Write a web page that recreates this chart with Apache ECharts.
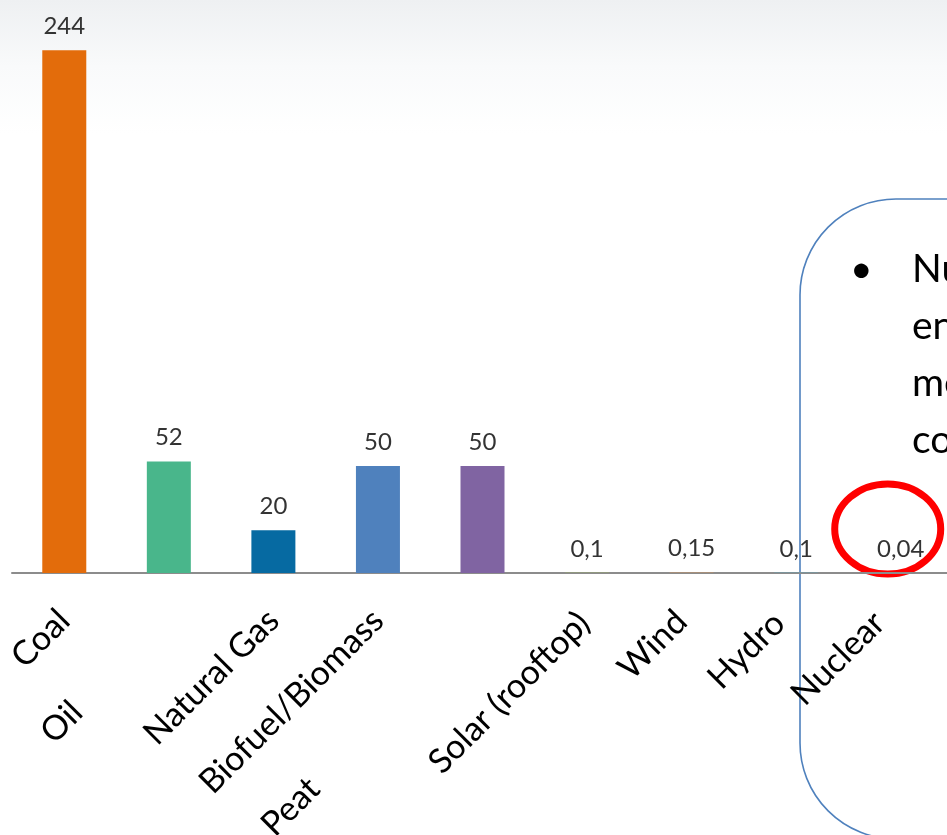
<!DOCTYPE html>
<html>
<head>
<meta charset="utf-8">
<script src="https://cdn.jsdelivr.net/npm/echarts@6/dist/echarts.min.js"></script>
<style>
  html, body { margin: 0; padding: 0; background: #fff; }
  #chart { width: 947px; height: 835px; }
</style>
</head>
<body>
<div id="chart"></div>
<script>
// Deaths per TWh of electricity, by energy source
const categories = ['Coal', 'Oil', 'Natural Gas', 'Biofuel/Biomass', 'Peat', 'Solar (rooftop)', 'Wind', 'Hydro', 'Nuclear'];
const deathsPerTWh = [244, 52, 20, 50, 50, 0.1, 0.15, 0.1, 0.04];

// Bar fills, one per source
const barColors = ['#E36C0B', '#49B68B', '#066AA2', '#4F81BD', '#8064A2', '#9BBB59', '#F79646', '#4BACC6', '#C0504D'];

// Callout text lines
const calloutLines = ['Nuclear power has the lowest', 'energy-related death rate,', 'measured per TWh,', 'compared to all other sources'];

// Staggered axis labels: trailing gap along the text line and an extra lift
const labelAdjust = {
  'Oil': { gap: 130, lift: 0 },
  'Peat': { gap: 238, lift: 0 },
  'Solar (rooftop)': { gap: 4, lift: 0 },
  'Wind': { gap: 8, lift: 13 },
  'Hydro': { gap: 14, lift: 20 },
  'Nuclear': { gap: 17, lift: 27 }
};

const FONT = 'Lato, "Open Sans", sans-serif';
const LABEL_SIZE = 34;
const chart = echarts.init(document.getElementById('chart'));

const adjKeys = Object.keys(labelAdjust);
const labelRich = { t: { fontFamily: FONT, fontSize: LABEL_SIZE, color: '#000' } };
adjKeys.forEach((k, i) => {
  labelRich['g' + i] = { width: labelAdjust[k].gap, fontSize: 2 };
  labelRich['l' + i] = { lineHeight: labelAdjust[k].lift, height: labelAdjust[k].lift, fontSize: 2 };
});

chart.setOption({
  animation: false,
  backgroundColor: {
    type: 'linear', x: 0, y: 0, x2: 0, y2: 1,
    colorStops: [
      { offset: 0, color: '#eef0f2' },
      { offset: 0.08, color: '#f9fafb' },
      { offset: 0.16, color: '#ffffff' },
      { offset: 1, color: '#ffffff' }
    ]
  },
  grid: { left: 12, width: 941, top: 16, bottom: 262, outerBoundsMode: 'none', containLabel: false },
  xAxis: {
    type: 'category',
    data: categories,
    axisLine: { lineStyle: { color: '#8c8c8c', width: 2 } },
    axisTick: { show: false },
    axisLabel: {
      interval: 0,
      rotate: 45,
      margin: 42,
      color: '#000',
      fontFamily: FONT,
      fontSize: LABEL_SIZE,
      formatter: (v) => {
        const idx = adjKeys.indexOf(v);
        if (idx < 0) return '{t|' + v + '}';
        let s = '{t|' + v + '}{g' + idx + '| }';
        if (labelAdjust[v].lift) s += '\n{l' + idx + '| }';
        return s;
      },
      rich: labelRich
    }
  },
  yAxis: { type: 'value', min: 0, max: 260, show: false },
  series: [{
    type: 'bar',
    data: deathsPerTWh.map((v, i) => ({ value: v, itemStyle: { color: barColors[i] } })),
    barWidth: 44,
    label: {
      show: true,
      position: 'top',
      distance: 12,
      color: '#333',
      fontFamily: FONT,
      fontSize: 24,
      formatter: (p) => String(p.value).replace('.', ',')
    }
  }]
});

// Annotations: rounded callout box and the red ring around the Nuclear value
const nuc = chart.convertToPixel({ seriesIndex: 0 }, [categories.length - 1, 0]);
const textEls = calloutLines.map((line, i) => ({
  type: 'text', left: 912, top: 250 + i * 57,
  style: { text: line, font: '39px ' + FONT, fill: '#000' }
}));
chart.setOption({
  graphic: [
    {
      type: 'rect',
      shape: { x: 800, y: 199, width: 320, height: 640, r: 96 },
      style: { fill: 'none', stroke: '#4F81BD', lineWidth: 1.6 }
    },
    {
      type: 'text', left: 850, top: 250,
      style: { text: '•', font: '39px ' + FONT, fill: '#000' }
    },
    ...textEls,
    {
      type: 'ellipse',
      shape: { cx: nuc[0] - 13, cy: nuc[1] - 44, rx: 53, ry: 45 },
      style: { fill: 'none', stroke: '#FF0000', lineWidth: 7 }
    }
  ]
});
</script>
</body>
</html>
